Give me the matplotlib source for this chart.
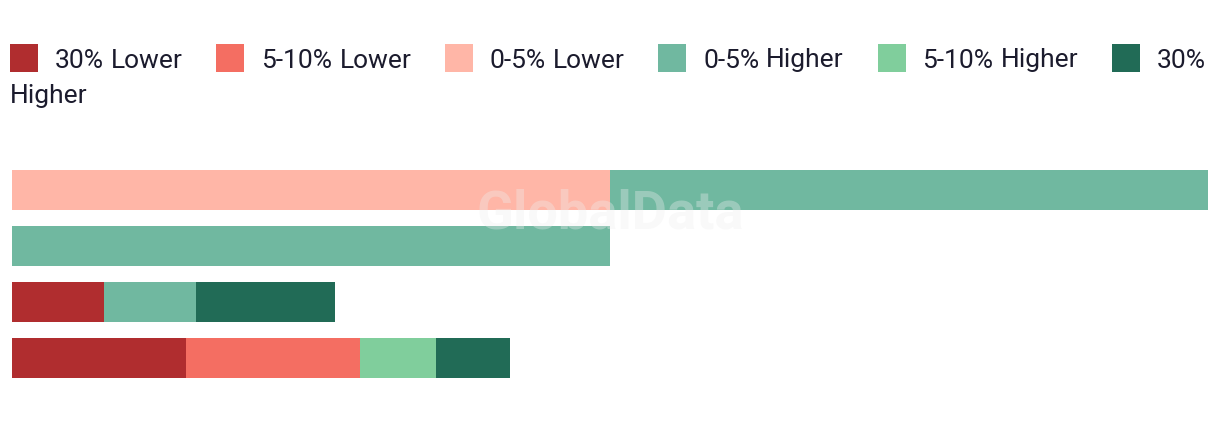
import matplotlib
matplotlib.use("Agg")
import matplotlib.pyplot as plt
from matplotlib.patches import Rectangle
import numpy as np

# data
rows = ["A", "B", "C", "D"]
series = ["30% Lower", "5-10% Lower", "0-5% Lower", "0-5% Higher", "5-10% Higher", "30% Higher"]
colors = ["#b02d2f", "#f46e62", "#ffb6a7", "#70b8a0", "#80ce9c", "#216b56"]
lower_30 = [0, 0, 7.7, 14.55]
lower_5_10 = [0, 0, 0, 14.55]
lower_0_5 = [50, 0, 0, 0]
higher_0_5 = [50, 50, 7.7, 0]
higher_5_10 = [0, 0, 0, 6.35]
higher_30 = [0, 0, 11.6, 6.15]
values = [lower_30, lower_5_10, lower_0_5, higher_0_5, higher_5_10, higher_30]

W, H = 1220, 422
TXT = "#1b1b2d"
plt.rcParams['font.family'] = ['Roboto', 'DejaVu Sans']

fig = plt.figure(figsize=(W / 100, H / 100), dpi=100)

def fx(px):
    return px / W

def fy(py):
    return 1 - py / H

# bars
ax = fig.add_axes([fx(12), fy(386), fx(1208) - fx(12), fy(162) - fy(386)])
y = np.arange(len(rows))
left = np.zeros(len(rows))
for vals, col in zip(values, colors):
    ax.barh(y, vals, left=left, height=0.714, color=col, linewidth=0)
    left += np.array(vals)
ax.set_xlim(0, 100)
ax.set_ylim(3.5, -0.5)
ax.axis("off")

# watermark
ax.text(50, 0.43, "GlobalData", ha="center", va="center", fontsize=39,
        fontweight="bold", color="#eeeeee", alpha=0.35, zorder=5)

# legend laid out like wrapping html
renderer = fig.canvas.get_renderer()
x = 10
line_y = 58
line_h = 35
for label, col in zip(series, colors):
    fig.add_artist(Rectangle((fx(x), fy(line_y + 14)), fx(28), fy(0) - fy(28),
                             transform=fig.transFigure, color=col, linewidth=0))
    x += 45
    words = label.split(" ")
    for i, w in enumerate(words):
        t = fig.text(fx(x), fy(line_y), w, fontsize=19, color=TXT,
                     ha="left", va="center_baseline")
        wpx = t.get_window_extent(renderer).width
        if x + wpx > 1212:
            x = 10
            line_y += line_h
            t.set_position((fx(x), fy(line_y)))
        x += wpx
        if i < len(words) - 1:
            x += 7
    x += 33.5

fig.savefig("out.png", dpi=100, facecolor="white")
